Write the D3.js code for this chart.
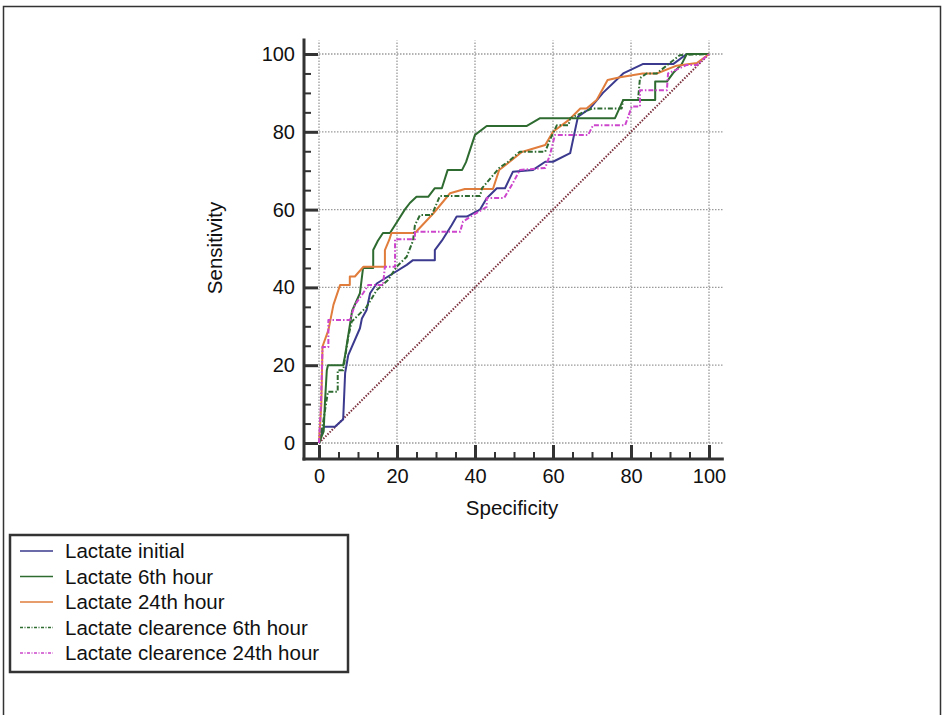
<!DOCTYPE html>
<html lang="en">
<head>
  <meta charset="utf-8">
  <title>ROC curves - lactate</title>
  <script src="https://d3js.org/d3.v7.min.js"></script>
  <style>
    body { margin: 0; background: #fff; }
  </style>
</head>
<body>
<script>

// ROC curve points, [100 - specificity, sensitivity]
var lactateInitial = [[0,0],[1.2,4.2],[4.1,4.2],[6.2,6.1],[6.7,18],[7.5,22.6],[10.5,29.5],[11,32],[12.2,34.2],[13.1,38.5],[14.8,41],[17.7,42.8],[22.5,45.8],[24.1,47],[29.7,47],[29.7,49.6],[31.5,52],[34,56],[35.3,58.2],[37.9,58.2],[41.3,60],[43,62.9],[45.6,65.5],[47.7,65.5],[49.7,69.7],[54.9,70.2],[58,72.3],[60,72.3],[64.4,74.5],[66.4,83.9],[69.5,86],[72.8,90],[78,95],[83,97.4],[90.8,97.4],[94.3,100],[100,100]];

var lactate6h = [[0,0],[1.2,3],[1.5,10],[2,18.7],[2.3,20],[6.2,20],[6.7,22.6],[8.5,34],[10.5,38.5],[11.3,45],[13.9,45],[13.9,49.6],[15.1,52],[16.4,54],[18.2,54],[20,56.8],[22,60],[23.3,61.7],[25,63.3],[28,63.3],[29.7,65.5],[31.5,65.5],[33,70.2],[36.7,70.2],[37.7,72.2],[40,79.2],[43,81.5],[53.3,81.5],[56.7,83.5],[75.9,83.5],[78,88.2],[86.2,88.2],[86.2,92.9],[89.2,92.9],[90.8,95.1],[93,97.4],[94.3,100],[100,100]];

var lactate24h = [[0,0],[0.6,10],[0.9,24.8],[2.4,29],[3.7,35.5],[5.4,40.6],[7.9,40.6],[7.9,42.8],[9.2,42.8],[11.4,45.3],[16.9,45.3],[16.9,49.6],[18,52.2],[18.6,54],[24.6,54],[29.3,59],[33.6,64.2],[37.4,65.3],[44.6,65.3],[46.2,70.2],[48.5,72],[52,74.8],[58,76.6],[60,80],[64,83],[67,86],[68.6,86],[71.2,88.2],[74,93.3],[77.2,94],[83,95],[86.6,95],[91.7,97],[96.9,97.7],[100,100]];

var clearance6h = [[0,0],[1,5],[2.3,13.2],[4.8,13.2],[4.8,18.7],[6.2,18.7],[7.5,27.3],[8.4,31.2],[11,33.8],[12.2,35],[14.8,39.3],[17.7,41.9],[19.9,45.3],[22.5,47.9],[24.1,52],[24.6,56],[25.9,58.6],[28.9,58.6],[30.2,61.6],[31,63.5],[41.3,63.5],[41.8,65.5],[46.2,70.7],[48.5,72.3],[51.5,74.9],[58,74.9],[59.2,77.9],[61,81.7],[64,81.7],[64.4,83.5],[70,86],[77.6,86],[78,88.2],[81.8,88.2],[82.3,93.8],[84,95],[86.6,95],[92.5,99.7],[100,100]];

var clearance24h = [[0,0],[0.5,10],[0.9,24.7],[2.4,24.7],[2.4,31.6],[7.9,31.6],[9.2,35.5],[11.3,38.5],[12.6,40.6],[16.4,40.6],[16.9,45.3],[19.5,45.3],[19.5,52.4],[24.6,52.4],[24.6,54.3],[36.2,54.3],[36.9,56.9],[39.5,58.6],[43,60.7],[43,63],[47.5,63],[49.7,66.8],[51.5,70.2],[58,70.7],[59.2,74],[60.5,79.2],[69,79.2],[70.3,81.7],[78.5,81.7],[80.2,86.5],[82.3,86.5],[82.3,90.7],[89.2,90.7],[89.5,95],[94.3,97.2],[96.9,97.2],[100,100]];

var seriesNames = ["Lactate initial", "Lactate 6th hour", "Lactate 24th hour", "Lactate clearence 6th hour", "Lactate clearence 24th hour"];
var majorTicks = [0, 20, 40, 60, 80, 100];
var minorTicks = [5, 10, 15, 25, 30, 35, 45, 50, 55, 65, 70, 75, 85, 90, 95];
var diagonal = [[0, 0], [100, 100]];

var allSeries = [lactateInitial, lactate6h, lactate24h, clearance6h, clearance24h];
var colors = ["#3b3a8e", "#2e6b30", "#e07d3c", "#2e6b30", "#cc45cc"];
var dashes = [null, null, null, "5,2,1.5,2", "5,2,1.5,2"];

var width = 945, height = 715;
var axisColor = "#333";

var svg = d3.select("body")
  .append("svg")
  .attr("width", width)
  .attr("height", height)
  .style("font-family", "'Liberation Sans', Arial, sans-serif");

// outer frame
svg.append("rect")
  .attr("x", 3.5).attr("y", 6.5)
  .attr("width", 937).attr("height", 720)
  .attr("fill", "none")
  .attr("stroke", axisColor)
  .attr("stroke-width", 1.5);

var x = d3.scaleLinear().domain([0, 100]).range([319, 709]);
var y = d3.scaleLinear().domain([0, 100]).range([443, 54]);

// dotted grid
var grid = svg.append("g")
  .attr("stroke", "#9a9a9a")
  .attr("stroke-width", 1.3)
  .attr("stroke-dasharray", "1.5,1.5");

grid.selectAll(".h").data(majorTicks).join("line")
  .attr("class", "h")
  .attr("x1", x(0)).attr("x2", x(103.5))
  .attr("y1", function(d) { return y(d); })
  .attr("y2", function(d) { return y(d); });

grid.selectAll(".v").data(majorTicks).join("line")
  .attr("class", "v")
  .attr("y1", y(0)).attr("y2", y(103.5))
  .attr("x1", function(d) { return x(d); })
  .attr("x2", function(d) { return x(d); });

// axes, offset from the data area, ticks pointing inward
var yAxisX = 304, xAxisY = 459;

var yMajor = svg.append("g")
  .attr("transform", "translate(" + yAxisX + ",0)")
  .call(d3.axisLeft(y).tickValues(majorTicks).tickSizeInner(-14).tickSizeOuter(0).tickPadding(9));
var yMinor = svg.append("g")
  .attr("transform", "translate(" + yAxisX + ",0)")
  .call(d3.axisLeft(y).tickValues(minorTicks).tickSize(-7).tickFormat(""));

var xMajor = svg.append("g")
  .attr("transform", "translate(0," + xAxisY + ")")
  .call(d3.axisBottom(x).tickValues(majorTicks).tickSizeInner(-14).tickSizeOuter(0).tickPadding(10));
var xMinor = svg.append("g")
  .attr("transform", "translate(0," + xAxisY + ")")
  .call(d3.axisBottom(x).tickValues(minorTicks).tickSize(-7).tickFormat(""));

[yMajor, yMinor, xMajor, xMinor].forEach(function(g) {
  g.select(".domain").remove();
  g.selectAll("line").attr("stroke", axisColor).attr("stroke-width", 2);
  g.selectAll("text")
    .attr("fill", "#111")
    .style("font-size", "20px")
    .style("font-family", "'Liberation Sans', Arial, sans-serif");
});
yMajor.selectAll("line").attr("stroke-width", 3);
xMajor.selectAll("line").attr("stroke-width", 3);

svg.append("line")
  .attr("x1", yAxisX).attr("x2", yAxisX)
  .attr("y1", y(104)).attr("y2", xAxisY + 1.5)
  .attr("stroke", axisColor).attr("stroke-width", 3);
svg.append("line")
  .attr("x1", yAxisX - 1.5).attr("x2", x(103.8))
  .attr("y1", xAxisY).attr("y2", xAxisY)
  .attr("stroke", axisColor).attr("stroke-width", 3);

// axis titles
svg.append("text")
  .attr("x", 512).attr("y", 515)
  .attr("text-anchor", "middle")
  .style("font-size", "20.5px")
  .attr("fill", "#111")
  .text("Specificity");

svg.append("text")
  .attr("transform", "translate(222,248) rotate(-90)")
  .attr("text-anchor", "middle")
  .style("font-size", "20.5px")
  .attr("fill", "#111")
  .text("Sensitivity");

// reference diagonal
var line = d3.line()
  .x(function(d) { return x(d[0]); })
  .y(function(d) { return y(d[1]); });

svg.append("path")
  .datum(diagonal)
  .attr("d", line)
  .attr("fill", "none")
  .attr("stroke", "#7a2f3c")
  .attr("stroke-width", 2)
  .attr("stroke-dasharray", "1.5,1.5");

// ROC curves
svg.selectAll(".roc")
  .data(allSeries)
  .join("path")
  .attr("class", "roc")
  .attr("d", line)
  .attr("fill", "none")
  .attr("stroke", function(d, i) { return colors[i]; })
  .attr("stroke-width", 2)
  .attr("stroke-linejoin", "round")
  .attr("stroke-dasharray", function(d, i) { return dashes[i]; });

// legend
var legend = svg.append("g");
legend.append("rect")
  .attr("x", 10).attr("y", 535)
  .attr("width", 338).attr("height", 137)
  .attr("fill", "none")
  .attr("stroke", axisColor)
  .attr("stroke-width", 2.5);

var rows = legend.selectAll(".item")
  .data(seriesNames)
  .join("g")
  .attr("class", "item")
  .attr("transform", function(d, i) { return "translate(0," + (551 + i * 25.5) + ")"; });

rows.append("line")
  .attr("x1", 20).attr("x2", 53)
  .attr("stroke", function(d, i) { return colors[i]; })
  .attr("stroke-width", 1.5)
  .attr("stroke-dasharray", function(d, i) { return dashes[i] ? "3,1.5,1,1.5" : null; });

rows.append("text")
  .attr("x", 65)
  .attr("dy", "0.35em")
  .style("font-size", "20.5px")
  .attr("fill", "#111")
  .text(function(d) { return d; });

</script>
</body>
</html>
